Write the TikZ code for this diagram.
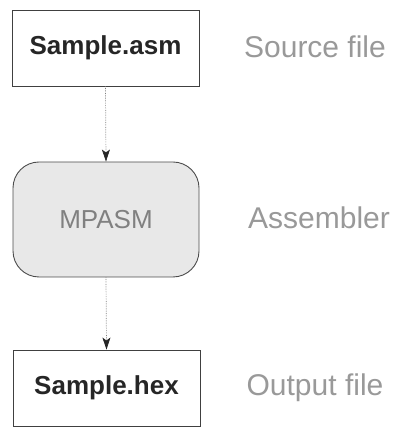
\documentclass[tikz,border=0pt]{standalone}
\usepackage{fontspec}
\setmainfont{Liberation Sans}
\usetikzlibrary{arrows.meta}
\begin{document}
\begin{tikzpicture}[x=1pt,y=1pt,
  filebox/.style={draw=black!75, line width=0.9pt, minimum width=187pt, minimum height=76pt, inner sep=0pt, font=\fontsize{26}{30}\selectfont\bfseries, text=black!85},
  procbox/.style={draw=black!70, line width=0.9pt, rounded corners=26pt, fill=black!9, minimum width=186pt, minimum height=115pt, inner sep=0pt, font=\fontsize{26}{30}\selectfont, text=black!50},
  label/.style={font=\fontsize{30}{34}\selectfont, text=black!40, inner sep=0pt},
  flow/.style={draw=black!50, line width=0.7pt, densely dotted, -{Stealth[length=12pt,width=8pt,inset=3pt,black!85]}}]
\useasboundingbox (0,0) rectangle (398,427);
\node[filebox] (src) at (105.5,379) {Sample.asm};
\node[procbox] (asm) at (106,207.5) {MPASM};
\node[filebox] (out) at (106.5,39) {Sample.hex};
\node[label] (srcl) at (315,380) {Source file};
\node[label] (asml) at (319,209) {Assembler};
\node[label] (outl) at (315,39) {Output file};
\draw[flow] (src.south) -- (asm.north);
\draw[flow] (asm.south) -- (out.north);
\end{tikzpicture}
\end{document}
